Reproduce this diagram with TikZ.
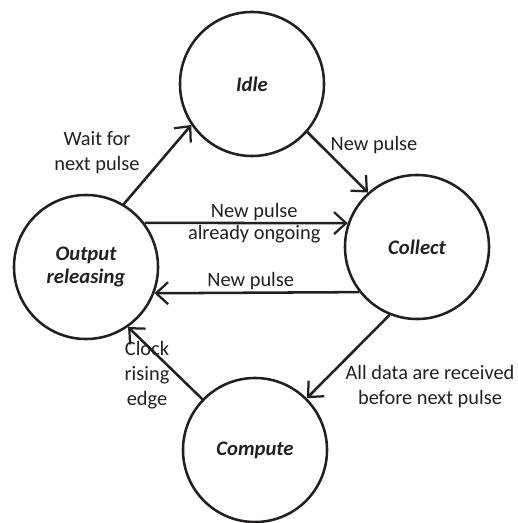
\documentclass[tikz,border=0pt]{standalone}
\usepackage{fontspec}
\setmainfont{Carlito}
\usetikzlibrary{arrows.meta}
\definecolor{ink}{RGB}{35,31,32}
\tikzset{
  state/.style={circle,draw=ink,line width=1.8pt,minimum size=3.6cm,inner sep=0pt,
    text=ink,font=\fontsize{14.7}{16.5}\selectfont\bfseries\itshape,align=center},
  trans/.style={draw=ink,line width=1.8pt,-{Straight Barb[length=3mm,width=5.5mm,line width=1.6pt]}},
  lbl/.style={text=ink,align=center,inner sep=1pt}
}
\begin{document}
\begin{tikzpicture}[x=0.025cm,y=-0.025cm,font=\fontsize{14.5}{17.7}\selectfont]
    \useasboundingbox (0,0) rectangle (517,523);
    \node [state] (idle) at (252,84) {Idle};
    \node [state] (output) at (86,267) {Output\\releasing};
    \node [state] (collect) at (417,247) {Collect};
    \node [state] (compute) at (255,450) {Compute};
    \draw [trans] (output.59) -- (idle.214);
    \draw [trans] (idle.319) -- (collect.132);
    \draw [trans] (output.37) -- (collect.161)
        node [lbl,pos=0.54,anchor=south] {New pulse}
        node [lbl,pos=0.54,anchor=north] {already ongoing};
    \draw [trans] (collect.218) -- (output.339)
        node [lbl,pos=0.53,anchor=south] {New pulse};
    \draw [trans] (collect.248) -- (compute.45);
    \draw [trans] (compute.136) -- (output.305);
    \node [lbl] (waitlbl) at (97,153) {Wait for\\next pulse};
    \node [lbl] (pulselbl) at (374,145) {New pulse};
    \node [lbl] (clocklbl) at (147,375) {Clock\\rising\\edge};
    \node [lbl] (datalbl) at (430,387) {All data are received\\before next pulse};
\end{tikzpicture}
\end{document}
